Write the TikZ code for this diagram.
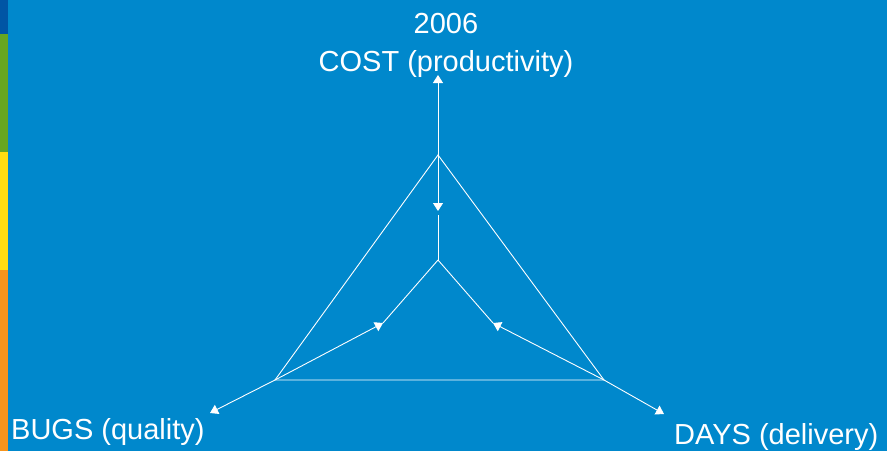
\documentclass[tikz,border=0pt]{standalone}
\usepackage{fontspec}
\setmainfont{Liberation Sans}
\usetikzlibrary{arrows.meta, positioning}
\definecolor{fondo}{HTML}{0088CC}
\definecolor{azulo}{HTML}{0055A5}
\definecolor{verde}{HTML}{66A622}
\definecolor{amarillo}{HTML}{FFDD11}
\definecolor{naranja}{HTML}{F7941D}

\begin{document}
\begin{tikzpicture}[
    x=1pt, y=-1pt,
    linea/.style={white, line width=0.9pt},
    flecha/.style={-{Triangle[length=8pt, width=10pt]}, white, line width=0.9pt},
    etiqueta/.style={text=white, font=\fontsize{29}{34}\selectfont, inner sep=0pt, align=center}
]

% fondo y franjas
\fill[fondo] (0,0) rectangle (887,451);
\useasboundingbox (0,0) rectangle (887,451);
\fill[azulo] (0,0) rectangle (8,34);
\fill[verde] (0,34) rectangle (8,152);
\fill[amarillo] (0,152) rectangle (8,270);
\fill[naranja] (0,270) rectangle (8,451);

\coordinate (centro) at (438,260);
\coordinate (arriba) at (438,155);
\coordinate (izq) at (275,380);
\coordinate (der) at (604,380);

\coordinate (m1) at (438,211);
\coordinate (m2) at (383,323);
\coordinate (m3) at (493,323);

\coordinate (e1) at (438,75);
\coordinate (e2) at (210,413);
\coordinate (e3) at (664,414);

\draw [linea] (arriba) -- (izq) -- (der) -- cycle;

\draw [linea] (centro) -- (438,215);
\draw [linea] (centro) -- (m2);
\draw [linea] (centro) -- (m3);

\draw [flecha] (arriba) -- (m1);
\draw [flecha] (izq) -- (m2);
\draw [flecha] (der) -- (m3);

\draw [flecha] (arriba) -- (e1);
\draw [flecha] (izq) -- (e2);
\draw [flecha] (der) -- (e3);

\node (costo) [etiqueta, anchor=base] at (446,71) {COST (productivity)};
\node (anio) [etiqueta, anchor=base] at (446,33) {2006};
\node (bugs) [etiqueta, anchor=base west] at (11,439) {BUGS (quality)};
\node (dias) [etiqueta, anchor=base west] at (674,444) {DAYS (delivery)};

\end{tikzpicture}
\end{document}
